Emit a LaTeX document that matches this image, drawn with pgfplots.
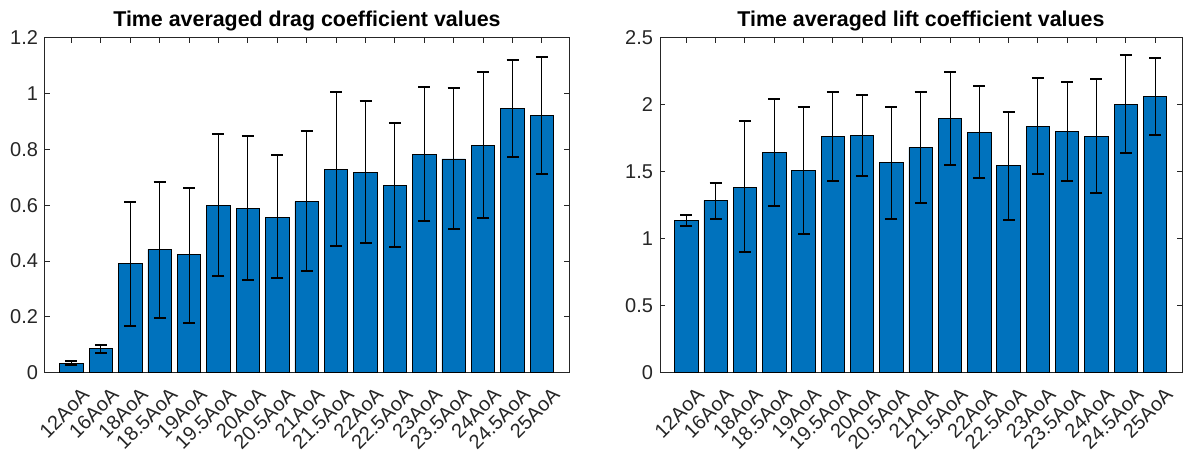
\documentclass[border=0pt]{standalone}
\usepackage{fontspec}
\setmainfont{Liberation Sans}
\usepackage{pgfplots}
\pgfplotsset{compat=1.18}
\usepackage{pgfplotstable}
\definecolor{mblue}{RGB}{0,114,189}
\definecolor{mgray}{RGB}{38,38,38}

\pgfplotstableread{
x y ep em
0 0.0335 0.0075 0.0075
1 0.086 0.014 0.014
2 0.390 0.220 0.221
3 0.442 0.243 0.247
4 0.423 0.240 0.246
5 0.600 0.254 0.254
6 0.589 0.259 0.255
7 0.557 0.223 0.218
8 0.613 0.252 0.249
9 0.728 0.277 0.274
10 0.719 0.255 0.253
11 0.672 0.224 0.222
12 0.783 0.241 0.239
13 0.766 0.253 0.251
14 0.816 0.263 0.262
15 0.947 0.175 0.175
16 0.921 0.210 0.208
}\dragtable

\pgfplotstableread{
x y ep em
0 1.138 0.038 0.042
1 1.286 0.134 0.138
2 1.385 0.492 0.487
3 1.647 0.397 0.399
4 1.512 0.474 0.477
5 1.767 0.331 0.332
6 1.774 0.302 0.306
7 1.570 0.414 0.419
8 1.682 0.411 0.414
9 1.899 0.344 0.347
10 1.797 0.342 0.344
11 1.545 0.404 0.407
12 1.839 0.360 0.357
13 1.799 0.374 0.371
14 1.767 0.424 0.422
15 2.006 0.367 0.364
16 2.061 0.292 0.289
}\lifttable

\pgfplotsset{mstyle/.style={
  scale only axis, ybar, bar width=0.8, ymin=0,
  xmin=-0.9, xmax=16.92, enlargelimits=false,
  xtick={0,...,16},
  xticklabels={12AoA,16AoA,18AoA,18.5AoA,19AoA,19.5AoA,20AoA,20.5AoA,21AoA,21.5AoA,22AoA,22.5AoA,23AoA,23.5AoA,24AoA,24.5AoA,25AoA},
  xtick pos=both, ytick pos=both, tick align=inside,
  major tick length=2.6pt,
  axis line style={mgray, line width=0.5pt},
  tick style={mgray, line width=0.5pt},
  ticklabel style={font=\fontsize{10}{12}\selectfont, text=mgray},
  x tick label style={xshift=4.5pt, yshift=-2pt, rotate=45, anchor=north east},
  /pgf/number format/assume math mode=true,
  every axis title shift=0pt,
  title style={font=\bfseries\fontsize{10.7}{13}\selectfont, at={(0.5,1)}, anchor=base, yshift=5.5pt},
  error bars/y dir=both, error bars/y explicit,
  error bars/error bar style={black, line width=0.5pt},
  error bars/error mark options={rotate=90, black, mark size=3pt, line width=1pt},
}}

\begin{document}
\begin{tikzpicture}
\useasboundingbox (0,0) rectangle (592pt,226.5pt);
\begin{axis}[mstyle, at={(22.5pt,40.15pt)}, anchor=south west,
  width=262pt, height=167.4pt, ymax=1.2,
  ytick={0,0.2,0.4,0.6,0.8,1,1.2},
  title={Time averaged drag coefficient values}]
\addplot[fill=mblue, draw=black, line width=0.4pt]
  table[x=x, y=y, y error plus=ep, y error minus=em] {\dragtable};
\end{axis}
\begin{axis}[mstyle, at={(330pt,40.15pt)}, anchor=south west,
  width=261pt, height=167.4pt, ymax=2.5,
  ytick={0,0.5,1,1.5,2,2.5},
  title={Time averaged lift coefficient values}]
\addplot[fill=mblue, draw=black, line width=0.4pt]
  table[x=x, y=y, y error plus=ep, y error minus=em] {\lifttable};
\end{axis}
\end{tikzpicture}
\end{document}
